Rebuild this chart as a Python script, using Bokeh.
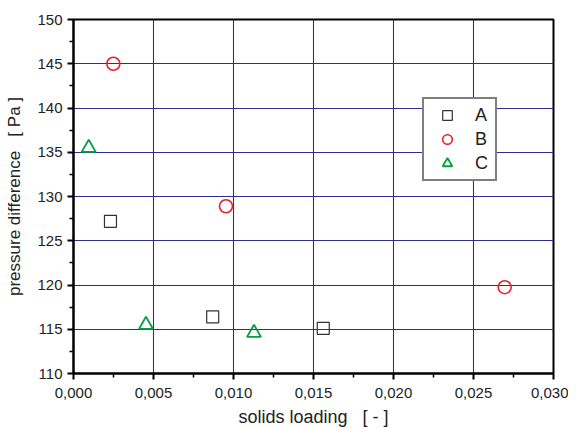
from bokeh.plotting import figure
from bokeh.models import (Range1d, FixedTicker, CustomJSTickFormatter, Legend,
                          LegendItem)
from bokeh.embed import file_html
from bokeh.resources import INLINE

# Data
a_x = [0.00231, 0.0087, 0.01561]
a_y = [127.2, 116.4, 115.1]
b_x = [0.00249, 0.00953, 0.02695]
b_y = [145.0, 128.9, 119.75]
c_x = [0.00095, 0.00453, 0.01128]
c_y = [135.5, 115.5, 114.6]
series_names = ["A", "B", "C"]

x_ticks = [0.0, 0.005, 0.010, 0.015, 0.020, 0.025, 0.030]
x_minor = [0.0025, 0.0075, 0.0125, 0.0175, 0.0225, 0.0275]
y_ticks = [110, 115, 120, 125, 130, 135, 140, 145, 150]
y_minor = [112.5, 117.5, 122.5, 127.5, 132.5, 137.5, 142.5, 147.5]

FONT = "Liberation Sans"
GRID = "#23238c"
NB = "\u00a0"

p = figure(width=568, height=429, output_backend="svg", toolbar_location=None,
           x_range=Range1d(0.0, 0.030), y_range=Range1d(110, 150),
           min_border_left=73, min_border_right=15, min_border_top=19,
           min_border_bottom=56)
p.background_fill_color = "white"
p.border_fill_color = "white"
p.outline_line_color = "black"
p.outline_line_width = 2

p.xaxis.ticker = FixedTicker(ticks=x_ticks, minor_ticks=x_minor)
p.yaxis.ticker = FixedTicker(ticks=y_ticks, minor_ticks=y_minor)
p.xaxis.formatter = CustomJSTickFormatter(code="return tick.toFixed(3).replace('.', ',');")
p.yaxis.formatter = CustomJSTickFormatter(code="return tick.toFixed(0);")

for ax in (p.xaxis[0], p.yaxis[0]):
    ax.axis_line_color = "black"
    ax.axis_line_width = 2
    ax.major_tick_line_color = "black"
    ax.major_tick_line_width = 2
    ax.major_tick_out = 6
    ax.major_tick_in = 0
    ax.minor_tick_line_color = "black"
    ax.minor_tick_line_width = 1.5
    ax.minor_tick_out = 4
    ax.minor_tick_in = 0
    ax.major_label_text_font = FONT
    ax.major_label_text_font_size = "15px"
    ax.major_label_text_color = "#222222"
    ax.axis_label_text_font = FONT
    ax.axis_label_text_font_style = "normal"
    ax.axis_label_text_color = "#222222"

p.xaxis.axis_label = "solids loading" + NB * 3 + "[" + NB + "-" + NB + "]"
p.yaxis.axis_label = "pressure difference" + NB * 3 + "[" + NB + "Pa" + NB + "]"
p.xaxis.axis_label_text_font_size = "18px"
p.yaxis.axis_label_text_font_size = "17px"
p.xaxis.major_label_standoff = 8
p.yaxis.major_label_standoff = 5
p.xaxis.axis_label_standoff = 6
p.yaxis.axis_label_standoff = 10

p.xgrid.ticker = FixedTicker(ticks=x_ticks)
p.ygrid.ticker = FixedTicker(ticks=y_ticks)
p.grid.grid_line_color = GRID
p.grid.grid_line_width = 1.1
p.grid.grid_line_alpha = 0.95

ra = p.scatter(a_x, a_y, marker="square", size=12, fill_color=None,
               line_color="#333333", line_width=1.2)
rb = p.scatter(b_x, b_y, marker="circle", size=13, fill_color=None,
               line_color="#e8202a", line_width=1.6)
rc = p.scatter(c_x, c_y, marker="triangle", size=14, fill_color=None,
               line_color="#00a040", line_width=1.8)

legend = Legend(items=[LegendItem(label=series_names[0], renderers=[ra]),
                       LegendItem(label=series_names[1], renderers=[rb]),
                       LegendItem(label=series_names[2], renderers=[rc])],
                location=(349, 192))
legend.glyph_width = 38
legend.glyph_height = 24
legend.label_height = 20
legend.label_width = 16
legend.spacing = 0
legend.padding = 4
legend.margin = 0
legend.label_standoff = 9
legend.label_text_font = FONT
legend.label_text_font_size = "18px"
legend.label_text_color = "#222222"
legend.border_line_color = "black"
legend.border_line_width = 2
legend.background_fill_color = "white"
legend.background_fill_alpha = 1.0
p.add_layout(legend)

open("out.html", "w").write(file_html(p, INLINE))
